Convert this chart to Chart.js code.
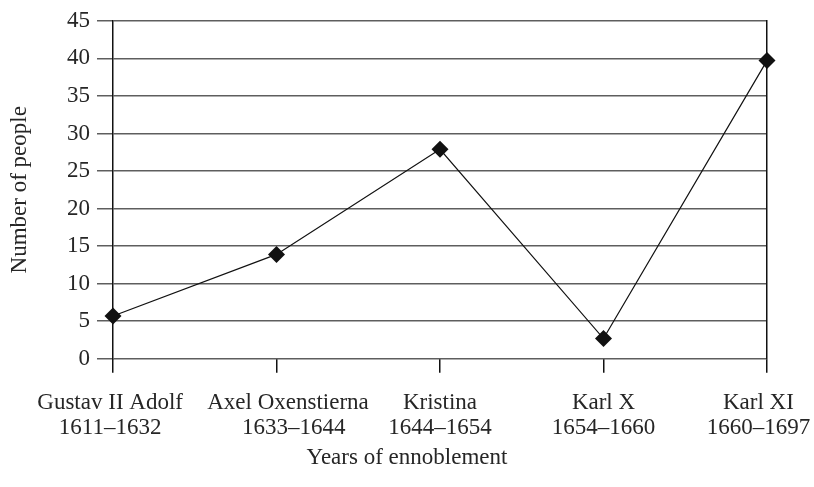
<!DOCTYPE html>
<html>
<head>
<meta charset="utf-8">
<script src="https://cdn.jsdelivr.net/npm/chart.js@4.4.1/dist/chart.umd.min.js"></script>
<style>
  html, body { margin: 0; padding: 0; background: #fff; }
  canvas { display: block; }
</style>
</head>
<body>
<canvas id="chart" width="814" height="487"></canvas>
<script>
// Ennoblements by reign
const rulers   = ['Gustav II Adolf', 'Axel Oxenstierna', 'Kristina', 'Karl X', 'Karl XI'];
const reigns   = ['1611–1632', '1633–1644', '1644–1654', '1654–1660', '1660–1697'];
const ennobled = [5.7, 13.9, 27.9, 2.7, 39.7];
const yMin = 0, yMax = 45, yStep = 5;

// Horizontal nudge of each label line, counted in spaces (+ right, - left)
const nudgeName  = [-1, 4, 0, 0, -3];
const nudgeReign = [-1, 6, 0, 0, -3];

function nudge(text, n) {
  const s = ' '.repeat(Math.abs(n));
  return n > 0 ? s + text : text + s;
}

const SERIF = "'Liberation Serif', 'DejaVu Serif', serif";
const INK = '#262626';
const GRID = '#5e5e5e';

new Chart(document.getElementById('chart'), {
  type: 'line',
  data: {
    labels: rulers,
    datasets: [{
      data: ennobled,
      borderColor: '#111',
      borderWidth: 1.2,
      tension: 0,
      pointStyle: 'rectRot',
      pointRadius: 8.5,
      pointBackgroundColor: '#111',
      pointBorderColor: '#111',
      pointBorderWidth: 0,
      clip: false
    }]
  },
  options: {
    responsive: false,
    animation: false,
    devicePixelRatio: 1,
    layout: { padding: { top: 20, left: 0, right: 0, bottom: 0 } },
    plugins: {
      legend: { display: false },
      tooltip: { enabled: false },
      title: {
        display: true,
        text: 'Years of ennoblement',
        position: 'bottom',
        color: INK,
        font: { family: SERIF, size: 23, weight: 'normal', lineHeight: 1.2 },
        padding: { top: 0, bottom: 15 }
      }
    },
    scales: {
      x: {
        type: 'category',
        offset: false,
        grid: {
          display: true,
          drawOnChartArea: false,
          drawTicks: true,
          tickLength: 14,
          color: '#111',
          lineWidth: 1.5
        },
        border: { display: false },
        ticks: {
          autoSkip: false,
          maxRotation: 0,
          minRotation: 0,
          padding: 18,
          color: INK,
          font: { family: SERIF, size: 23, lineHeight: '25px' },
          callback: (v, i) => [nudge(rulers[i], nudgeName[i]), nudge(reigns[i], nudgeReign[i])]
        },
        afterFit(s) { s.height = 85.6; s.paddingLeft = 0; s.paddingRight = 0; }
      },
      y: {
        min: yMin,
        max: yMax,
        ticks: { stepSize: yStep, padding: 7, color: INK, font: { family: SERIF, size: 23 } },
        grid: { color: GRID, lineWidth: 1.5, tickLength: 16 },
        border: { display: true, color: '#111', width: 1.5 },
        title: {
          display: true,
          text: 'Number of people',
          color: INK,
          font: { family: SERIF, size: 23 },
          padding: { top: 6, bottom: 0 }
        },
        afterFit(s) { s.width = 113; }
      },
      yRight: {
        position: 'right',
        min: yMin,
        max: yMax,
        ticks: { display: false },
        grid: { display: false },
        border: { display: true, color: '#111', width: 1.5 },
        afterFit(s) { s.width = 47; }
      }
    }
  }
});
</script>
</body>
</html>
